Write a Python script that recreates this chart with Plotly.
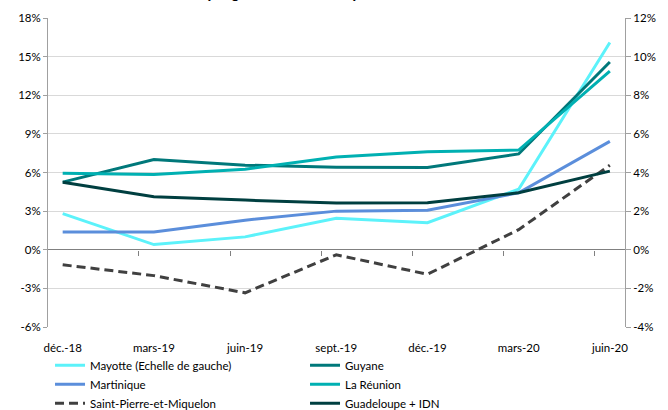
import plotly.graph_objects as go

categories = ["déc.-18", "mars-19", "juin-19", "sept.-19", "déc.-19", "mars-20", "juin-20"]

mayotte = [2.8, 0.4, 1.0, 2.45, 2.1, 4.7, 16.1]          # left axis
guyane = [3.5, 4.67, 4.38, 4.27, 4.26, 4.96, 9.72]       # right axis
martinique = [0.92, 0.92, 1.53, 2.0, 2.05, 2.95, 5.61]
reunion = [3.96, 3.89, 4.17, 4.8, 5.08, 5.16, 9.25]
spm = [-0.78, -1.34, -2.23, -0.26, -1.27, 1.04, 4.38]
guadeloupe = [3.5, 2.74, 2.57, 2.42, 2.43, 2.95, 4.07]

left_ticks = [-6, -3, 0, 3, 6, 9, 12, 15, 18]
right_ticks = [-4, -2, 0, 2, 4, 6, 8, 10, 12]

FONT = "Lato, Liberation Sans, Arial, sans-serif"
FS = 11.5
x = list(range(len(categories)))

fig = go.Figure()

def add(name, vals, color, axis="y2", dash="solid"):
    fig.add_trace(go.Scatter(
        x=x, y=vals, name=name, mode="lines", yaxis=axis,
        line=dict(color=color, width=3, dash=dash),
    ))

add("Mayotte (Echelle de gauche)", mayotte, "#5cf2fa", axis="y")
add("Guyane", guyane, "#00787a")
add("Martinique", martinique, "#5b8edb")
add("La Réunion", reunion, "#00b0b2")
add("Saint-Pierre-et-Miquelon", spm, "#404040", dash="9px,5px")
add("Guadeloupe + IDN", guadeloupe, "#003f40")

# dummy trace for the tick-mark axis on the zero line
fig.add_trace(go.Scatter(x=[None], y=[None], xaxis="x2", yaxis="y",
                         showlegend=False, hoverinfo="skip"))

xr = [-0.161, 6.166]
fig.update_layout(
    width=668, height=410,
    margin=dict(l=48, r=43, t=18, b=83, autoexpand=False),
    paper_bgcolor="white", plot_bgcolor="white",
    font=dict(family=FONT, size=FS, color="#000000"),
    showlegend=True,
    xaxis=dict(
        range=xr, tickmode="array", tickvals=x, ticktext=categories,
        showgrid=False, zeroline=False, showline=False, ticks="",
        ticklabelstandoff=12, tickfont=dict(size=FS),
    ),
    xaxis2=dict(
        range=xr, overlaying="x", anchor="free", position=0.25,
        tickmode="linear", tick0=-0.165, dtick=1,
        ticks="outside", ticklen=5, tickcolor="#808080",
        showticklabels=False, showgrid=False, zeroline=False, showline=False,
    ),
    yaxis=dict(
        range=[-6, 18], tickvals=left_ticks,
        ticktext=[f"{v}%" for v in left_ticks],
        showgrid=True, gridcolor="#d9d9d9", gridwidth=1,
        zeroline=True, zerolinecolor="#808080", zerolinewidth=1,
        showline=True, linecolor="#a0a0a0", linewidth=1,
        ticks="outside", ticklen=4, tickcolor="#a0a0a0",
        tickfont=dict(size=FS),
    ),
    yaxis2=dict(
        range=[-4, 12], tickvals=right_ticks,
        ticktext=[f"{v}%" for v in right_ticks],
        overlaying="y", side="right", showgrid=False, zeroline=False,
        showline=True, linecolor="#a0a0a0", linewidth=1,
        ticks="outside", ticklen=5, tickcolor="#a0a0a0",
        tickfont=dict(size=FS),
    ),
    legend=dict(
        orientation="h", x=0.0035, xanchor="left", y=-0.077, yanchor="top",
        entrywidth=210, entrywidthmode="pixels",
        font=dict(size=FS), bgcolor="rgba(0,0,0,0)", traceorder="normal",
    ),
    annotations=[dict(
        text="<b>(en glissement annuel)</b>", xref="paper", yref="paper",
        x=0.405, y=1.05, xanchor="center", yanchor="bottom", showarrow=False,
        font=dict(size=14, family="Liberation Sans, Arial, sans-serif"),
    )],
)

fig.write_html("out.html", config={"displayModeBar": False},
               post_script="document.body.style.margin='0';document.body.style.overflow='hidden';")
